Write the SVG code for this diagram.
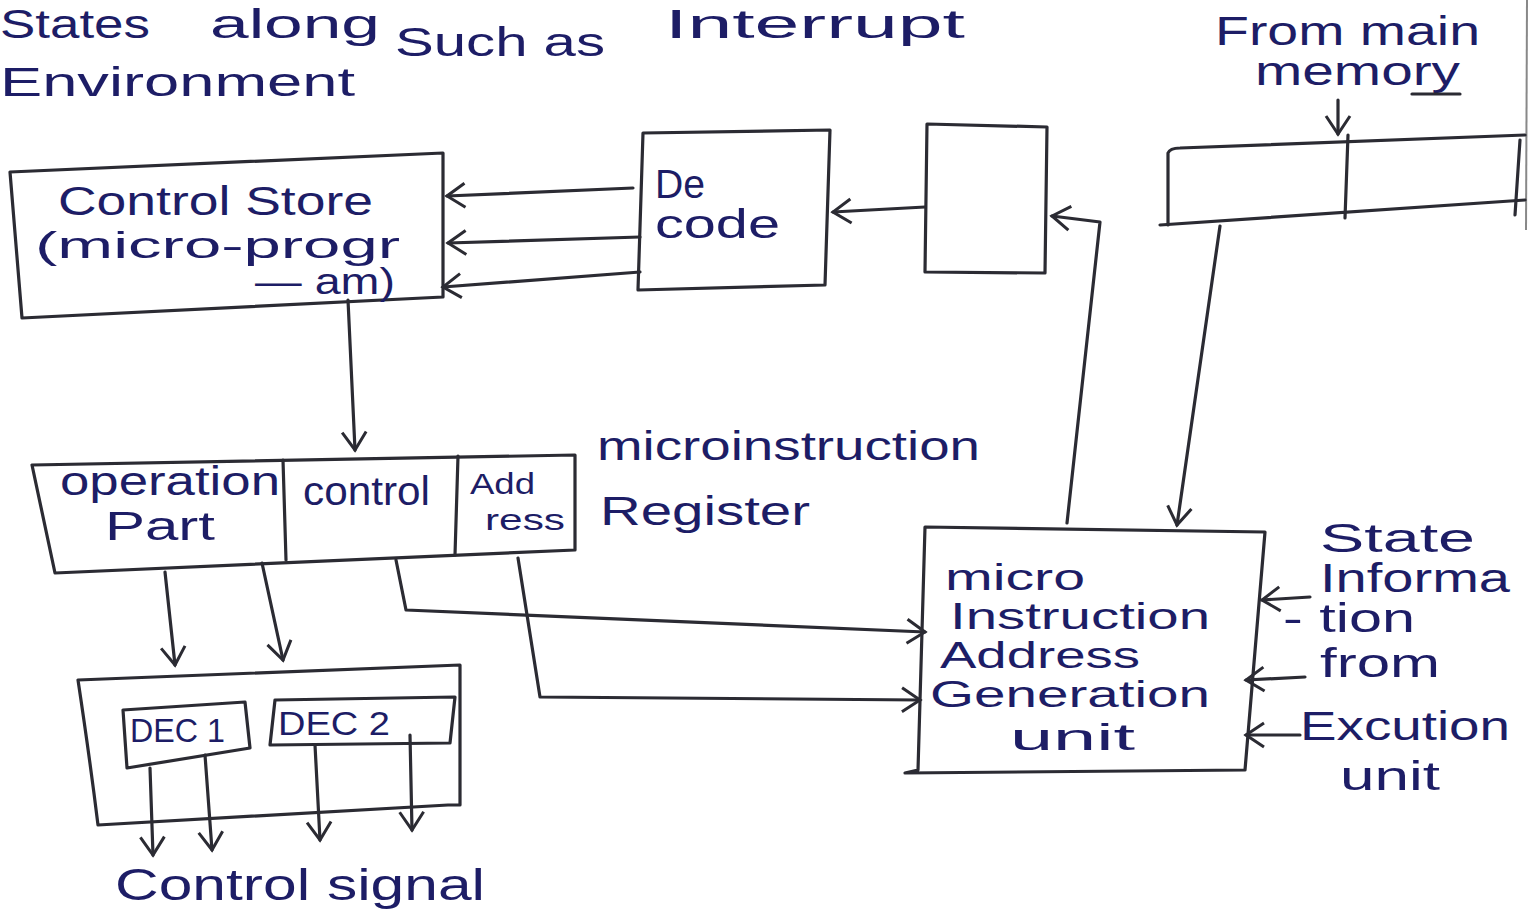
<svg xmlns="http://www.w3.org/2000/svg" width="1530" height="922" viewBox="0 0 1530 922">
<style>
.t{font-family:"Liberation Sans","DejaVu Sans",sans-serif;fill:#1d1d66;font-size:40px}
.m{font-size:36px}
.sm{font-size:30px}
.d{font-size:34px}
.lg{font-size:44px}
.s{fill:none;stroke:#2b2b33;stroke-width:3.2;stroke-linejoin:round;stroke-linecap:round}
.b{fill:#fff;stroke:#2b2b33;stroke-width:3.2;stroke-linejoin:round}
</style>
<defs>
<marker id="v" viewBox="0 0 20 20" refX="18" refY="10" markerWidth="30" markerHeight="30" orient="auto" markerUnits="userSpaceOnUse">
<path d="M6 2 L18 10 L6 18" fill="none" stroke="#2b2b33" stroke-width="2"/>
</marker>
</defs>
<rect width="1530" height="922" fill="#fff"/>
<line x1="1527" y1="0" x2="1526" y2="230" stroke="#888" stroke-width="2"/>

<g id="header-text">
<text class="t" x="0" y="38" textLength="150" lengthAdjust="spacingAndGlyphs">States</text>
<text class="t" x="210" y="38" textLength="170" lengthAdjust="spacingAndGlyphs">along</text>
<text class="t" x="395" y="56" textLength="210" lengthAdjust="spacingAndGlyphs">Such as</text>
<text class="t" x="665" y="38" textLength="300" lengthAdjust="spacingAndGlyphs">Interrupt</text>
<text class="t" x="0" y="96" textLength="355" lengthAdjust="spacingAndGlyphs">Environment</text>
</g>

<g id="control-store">
<path class="b" d="M10 172 L443 153 L443 297 L22 318 Z"/>
<text class="t" x="58" y="215" textLength="315" lengthAdjust="spacingAndGlyphs">Control Store</text>
<text class="t m" x="35" y="258" textLength="365" lengthAdjust="spacingAndGlyphs">(micro-progr</text>
<text class="t m" x="255" y="294" textLength="140" lengthAdjust="spacingAndGlyphs">— am)</text>
</g>

<g id="decode">
<path class="b" d="M643 133 L830 130 L825 285 L638 290 Z"/>
<text class="t" x="655" y="198" textLength="50" lengthAdjust="spacingAndGlyphs">De</text>
<text class="t" x="655" y="238" textLength="125" lengthAdjust="spacingAndGlyphs">code</text>
</g>

<g id="register-box">
<path class="b" d="M927 124 L1047 127 L1045 273 L925 272 Z"/>
</g>

<g id="main-memory-register">
<path class="s" d="M1168 225 L1168 153 Q1170 148 1180 148 L1525 135"/>
<path class="s" d="M1160 225 L1525 200"/>
<path class="s" d="M1348 135 L1345 218"/>
<path class="s" d="M1520 140 L1515 215"/>
<text class="t" x="1215" y="45" textLength="265" lengthAdjust="spacingAndGlyphs">From main</text>
<text class="t" x="1255" y="85" textLength="205" lengthAdjust="spacingAndGlyphs">memory</text>
<line class="s" x1="1412" y1="94" x2="1460" y2="94" stroke-width="2.5"/>
</g>

<g id="micro-register">
<path class="b" d="M32 465 L575 455 L575 550 L55 573 Z"/>
<path class="s" d="M283 460 L286 560"/>
<path class="s" d="M458 456 L455 555"/>
<text class="t" x="60" y="495" textLength="220" lengthAdjust="spacingAndGlyphs">operation</text>
<text class="t" x="105" y="540" textLength="110" lengthAdjust="spacingAndGlyphs">Part</text>
<text class="t" x="303" y="505" textLength="127" lengthAdjust="spacingAndGlyphs">control</text>
<text class="t sm" x="470" y="494" textLength="65" lengthAdjust="spacingAndGlyphs">Add</text>
<text class="t sm" x="485" y="530" textLength="80" lengthAdjust="spacingAndGlyphs">ress</text>
<text class="t" x="597" y="460" textLength="383" lengthAdjust="spacingAndGlyphs">microinstruction</text>
<text class="t" x="600" y="525" textLength="210" lengthAdjust="spacingAndGlyphs">Register</text>
</g>

<g id="decoders">
<path class="b" d="M78 680 L460 665 L460 805 L448 805 L98 825 Q90 760 78 680 Z"/>
<path class="b" d="M123 710 L245 702 L250 748 L127 768 Z"/>
<path class="b" d="M275 700 L455 697 L450 743 L270 745 Z"/>
<text class="t d" x="130" y="742" textLength="95" lengthAdjust="spacingAndGlyphs">DEC 1</text>
<text class="t d" x="278" y="735" textLength="112" lengthAdjust="spacingAndGlyphs">DEC 2</text>
<text class="t lg" x="115" y="900" textLength="370" lengthAdjust="spacingAndGlyphs">Control signal</text>
</g>

<g id="miagu">
<path class="b" d="M925 527 L1265 532 L1245 770 L905 773 L918 770 Z"/>
<text class="t m" x="945" y="590" textLength="140" lengthAdjust="spacingAndGlyphs">micro</text>
<text class="t m" x="950" y="629" textLength="260" lengthAdjust="spacingAndGlyphs">Instruction</text>
<text class="t m" x="940" y="668" textLength="200" lengthAdjust="spacingAndGlyphs">Address</text>
<text class="t m" x="930" y="707" textLength="280" lengthAdjust="spacingAndGlyphs">Generation</text>
<text class="t m" x="1010" y="750" textLength="125" lengthAdjust="spacingAndGlyphs">unit</text>
</g>

<g id="state-info-text">
<text class="t" x="1320" y="552" textLength="155" lengthAdjust="spacingAndGlyphs">State</text>
<text class="t" x="1320" y="592" textLength="190" lengthAdjust="spacingAndGlyphs">Informa</text>
<text class="t" x="1283" y="632" textLength="132" lengthAdjust="spacingAndGlyphs">- tion</text>
<text class="t" x="1320" y="677" textLength="120" lengthAdjust="spacingAndGlyphs">from</text>
<text class="t" x="1300" y="740" textLength="210" lengthAdjust="spacingAndGlyphs">Excution</text>
<text class="t" x="1340" y="790" textLength="100" lengthAdjust="spacingAndGlyphs">unit</text>
</g>

<g id="connectors">
<path class="s" d="M633 188 L447 196" marker-end="url(#v)"/>
<path class="s" d="M640 237 L448 243" marker-end="url(#v)"/>
<path class="s" d="M640 272 L443 287" marker-end="url(#v)"/>
<path class="s" d="M925 207 L833 212" marker-end="url(#v)"/>
<path class="s" d="M1067 523 L1100 222 L1052 216" marker-end="url(#v)"/>
<path class="s" d="M1338 100 L1338 134" marker-end="url(#v)"/>
<path class="s" d="M1220 226 L1177 525" marker-end="url(#v)"/>
<path class="s" d="M348 300 L355 450" marker-end="url(#v)"/>
<path class="s" d="M165 572 L175 665" marker-end="url(#v)"/>
<path class="s" d="M262 563 L283 660" marker-end="url(#v)"/>
<path class="s" d="M396 560 L406 610 L925 632" marker-end="url(#v)"/>
<path class="s" d="M518 558 L540 697 L920 700" marker-end="url(#v)"/>
<path class="s" d="M1310 597 L1262 600" marker-end="url(#v)"/>
<path class="s" d="M1305 677 L1246 680" marker-end="url(#v)"/>
<path class="s" d="M1300 735 L1246 735" marker-end="url(#v)"/>
<path class="s" d="M150 768 L153 855" marker-end="url(#v)"/>
<path class="s" d="M205 755 L212 850" marker-end="url(#v)"/>
<path class="s" d="M315 745 L320 840" marker-end="url(#v)"/>
<path class="s" d="M410 735 L412 830" marker-end="url(#v)"/>
</g>
</svg>
